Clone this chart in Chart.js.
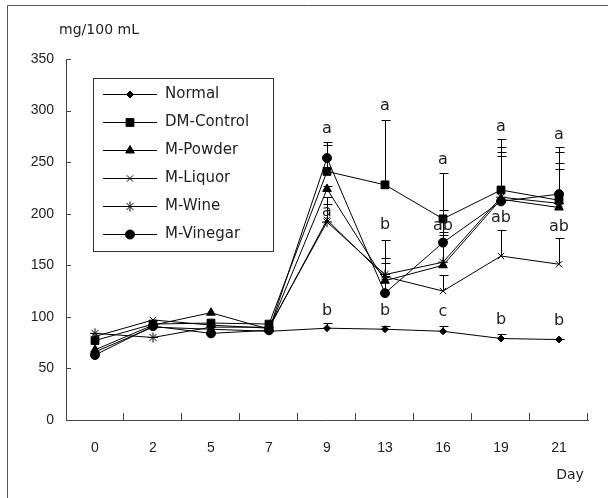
<!DOCTYPE html>
<html>
<head>
<meta charset="utf-8">
<script src="https://cdn.jsdelivr.net/npm/chart.js@4"></script>
<style>
  html, body { margin: 0; padding: 0; background: #fff; }
  canvas { display: block; }
</style>
</head>
<body>
<canvas id="chart" width="608" height="498"></canvas>
<script>
// days of measurement
const days = ['0', '2', '5', '7', '9', '13', '16', '19', '21'];

// mean values, mg/100 mL
const normal    = [66, 90, 88, 86, 89, 88, 86, 79, 78];
const dmControl = [77, 93, 94, 93, 241, 228, 195, 223, 213];
const mPowder   = [68, 92, 104, 88, 224, 135, 150, 214, 206];
const mLiquor   = [81, 97, 92, 89, 194, 139, 125, 159, 151];
const mWine     = [84, 80, 90, 90, 192, 141, 153, 216, 210];
const mVinegar  = [63, 91, 84, 87, 254, 123, 172, 212, 219];

// upper error (SD)
const normalErr    = [null, null, null, null, 5, 3, 5, 4, 1];
const dmControlErr = [null, null, null, null, 26, 63, 44, 49, 52];
const mPowderErr   = [null, null, null, null, 3, 17, 32, 51, 43];
const mLiquorErr   = [null, null, null, null, 22, 36, 16, 25, 25];
const mWineErr     = [null, null, null, null, 17, 16, 26, 40, 33];
const mVinegarErr  = [null, null, null, null, 16, 17, 32, 48, 41];

// significance letters and the value they sit at
const topLetters = ['', '', '', '', 'a', 'a', 'a', 'a', 'a'];
const topLetterAt = [null, null, null, null, 282, 305, 252, 284, 276];
const midLetters = ['', '', '', '', 'a', 'b', 'ab', 'ab', 'ab'];
const midLetterAt = [null, null, null, null, 202, 189, 188, 196, 187];
const lowLetters = ['', '', '', '', 'b', 'b', 'c', 'b', 'b'];
const lowLetterAt = [null, null, null, null, 106, 106, 105, 97, 96];

const yTicks = [0, 50, 100, 150, 200, 250, 300, 350];

const ink = '#222';
const textFont = '15px "DejaVu Sans", sans-serif';

function makeSeries(label, data, errors, pointStyle, radius) {
    return {
        label,
        data,
        errors,
        pointStyle,
        pointRadius: radius,
        pointHoverRadius: radius,
        pointBackgroundColor: '#000',
        pointBorderColor: '#000',
        pointBorderWidth: 1,
        borderColor: '#000',
        borderWidth: 1,
        tension: 0,
        fill: false
    };
}

const decorPlugin = {
    id: 'decor',
    beforeDatasetsDraw(chart) {
        const ctx = chart.ctx;
        const xs = chart.scales.x;
        const ys = chart.scales.y;
        ctx.save();
        ctx.strokeStyle = '#000';
        ctx.lineWidth = 1;
        chart.data.datasets.forEach(ds => {
            ds.errors.forEach((e, i) => {
                if (e == null) return;
                const px = Math.round(xs.getPixelForValue(i)) + 0.5;
                const y0 = ys.getPixelForValue(ds.data[i]);
                const y1 = Math.round(ys.getPixelForValue(ds.data[i] + e)) + 0.5;
                ctx.beginPath();
                ctx.moveTo(px, y0);
                ctx.lineTo(px, y1);
                ctx.moveTo(px - 4, y1);
                ctx.lineTo(px + 5, y1);
                ctx.stroke();
            });
        });
        ctx.restore();
    },
    afterDraw(chart) {
        const ctx = chart.ctx;
        const xs = chart.scales.x;
        const ys = chart.scales.y;
        ctx.save();

        // inward tick marks
        ctx.strokeStyle = '#444';
        ctx.lineWidth = 1;
        ctx.beginPath();
        const step = (xs.right - xs.left) / days.length;
        for (let i = 1; i <= days.length; i++) {
            const bx = Math.round(xs.left + i * step) - 0.5;
            ctx.moveTo(bx, ys.bottom);
            ctx.lineTo(bx, ys.bottom - 7);
        }
        yTicks.forEach(v => {
            if (v === 0) return;
            const by = Math.round(ys.getPixelForValue(v)) + 0.5;
            ctx.moveTo(xs.left, by);
            ctx.lineTo(xs.left + 5, by);
        });
        ctx.stroke();

        // letters
        ctx.fillStyle = ink;
        ctx.font = '16px "DejaVu Sans", sans-serif';
        ctx.textAlign = 'center';
        ctx.textBaseline = 'middle';
        [[topLetters, topLetterAt], [midLetters, midLetterAt], [lowLetters, lowLetterAt]].forEach(([txt, at]) => {
            txt.forEach((t, i) => {
                if (!t) return;
                ctx.fillText(t, xs.getPixelForValue(i), ys.getPixelForValue(at[i]));
            });
        });

        // axis titles
        ctx.font = '14px "DejaVu Sans", sans-serif';
        ctx.fillText('mg/100 mL', xs.left + 33, ys.top - 29);
        ctx.fillText('Day', xs.right - 18, ys.bottom + 55);

        // legend
        const lx = 93.5, ly = 78.5;
        ctx.font = textFont;
        ctx.strokeStyle = '#333';
        ctx.strokeRect(lx, ly, 180, 173);
        ctx.textAlign = 'left';
        chart.data.datasets.forEach((ds, i) => {
            const cy = Math.round(94 + i * 28) + 0.5;
            ctx.strokeStyle = '#000';
            ctx.beginPath();
            ctx.moveTo(103, cy);
            ctx.lineTo(157, cy);
            ctx.stroke();
            ctx.fillStyle = '#000';
            if (Chart.helpers && Chart.helpers.drawPoint) {
                Chart.helpers.drawPoint(ctx, {
                    pointStyle: ds.pointStyle,
                    radius: ds.pointRadius,
                    borderWidth: 1,
                    rotation: 0
                }, 130, cy);
            }
            ctx.fillStyle = ink;
            ctx.fillText(ds.label, 165, cy);
        });

        // outer frame (left and top only)
        ctx.strokeStyle = '#555';
        ctx.beginPath();
        ctx.moveTo(7.5, 498);
        ctx.lineTo(7.5, 5.5);
        ctx.lineTo(608, 5.5);
        ctx.stroke();

        ctx.restore();
    }
};

new Chart(document.getElementById('chart').getContext('2d'), {
    type: 'line',
    data: {
        labels: days,
        datasets: [
            makeSeries('Normal', normal, normalErr, 'rectRot', 3.5),
            makeSeries('DM-Control', dmControl, dmControlErr, 'rect', 5.5),
            makeSeries('M-Powder', mPowder, mPowderErr, 'triangle', 5),
            makeSeries('M-Liquor', mLiquor, mLiquorErr, 'crossRot', 4.5),
            makeSeries('M-Wine', mWine, mWineErr, 'star', 5),
            makeSeries('M-Vinegar', mVinegar, mVinegarErr, 'circle', 4.5)
        ]
    },
    options: {
        responsive: false,
        animation: false,
        devicePixelRatio: 1,
        layout: { padding: { left: 0, top: 59, right: 20, bottom: 0 } },
        plugins: {
            legend: { display: false },
            tooltip: { enabled: false }
        },
        scales: {
            x: {
                type: 'category',
                offset: true,
                grid: { display: false, drawTicks: false },
                border: { display: true, color: '#444', width: 1 },
                ticks: { color: ink, font: { family: '"Liberation Sans", Arial, sans-serif', size: 14 }, padding: 20, maxRotation: 0 },
                afterFit(scale) { scale.height = 78; }
            },
            y: {
                min: 0,
                max: 350,
                grid: { display: false, drawTicks: false },
                border: { display: true, color: '#444', width: 1 },
                ticks: {
                    stepSize: 50,
                    color: ink,
                    font: { family: '"Liberation Sans", Arial, sans-serif', size: 14 },
                    padding: 12
                },
                afterFit(scale) { scale.width = 66; }
            }
        }
    },
    plugins: [decorPlugin]
});
</script>
</body>
</html>
